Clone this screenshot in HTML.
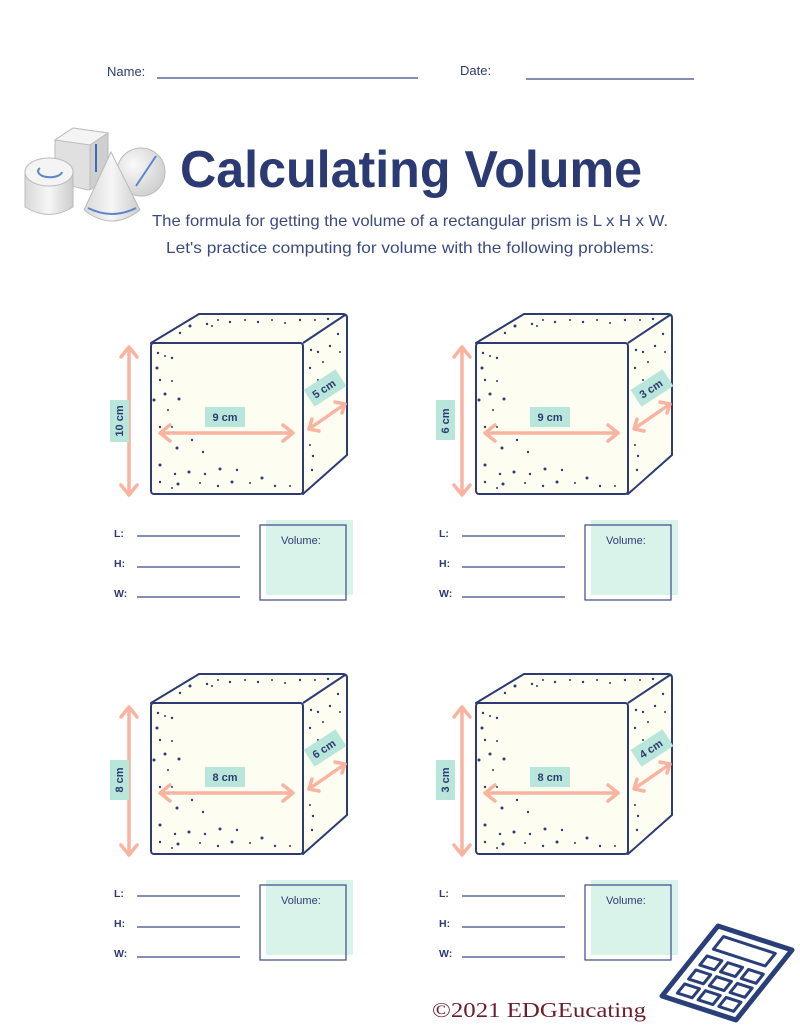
<!DOCTYPE html>
<html><head><meta charset="utf-8"><style>
html,body{margin:0;padding:0;background:#fff;}
svg{display:block;}
text{font-family:"Liberation Sans",sans-serif;}
text.serif{font-family:"Liberation Serif",serif;}
</style></head><body>
<svg width="800" height="1036" viewBox="0 0 800 1036" xmlns="http://www.w3.org/2000/svg">
<defs>
<radialGradient id="gs" cx="0.35" cy="0.35" r="0.7"><stop offset="0" stop-color="#fafafa"/><stop offset="1" stop-color="#cfcfcf"/></radialGradient>
<linearGradient id="gc" x1="0" x2="1"><stop offset="0" stop-color="#d8d8d8"/><stop offset="0.5" stop-color="#f6f6f6"/><stop offset="1" stop-color="#cccccc"/></linearGradient>
<g id="cube">
  <path d="M151,343 L199,314 L343,314 Q347,314 347,318 L347,455 L303,494 Z" fill="#fdfdf1" stroke="#2e3b73" stroke-width="2" stroke-linejoin="round"/>
  <rect x="151" y="343" width="152" height="151" rx="3" fill="#fdfdf1" stroke="#2e3b73" stroke-width="2"/>
  <path d="M303,343 L345,315" stroke="#2e3b73" stroke-width="2"/>
  <g fill="#2e3b73">
    <circle cx="207" cy="324" r="1.2"/><circle cx="218" cy="320" r="1"/><circle cx="230" cy="322" r="1.2"/><circle cx="245" cy="320" r="1"/><circle cx="258" cy="322" r="1.2"/><circle cx="272" cy="320" r="1"/><circle cx="285" cy="323" r="1"/><circle cx="300" cy="320" r="1.2"/><circle cx="315" cy="320" r="1"/><circle cx="328" cy="319" r="1.2"/><circle cx="190" cy="326" r="1.5"/><circle cx="180" cy="333" r="1.2"/><circle cx="212" cy="326" r="1"/>
    <circle cx="158" cy="353" r="1.2"/><circle cx="165" cy="356" r="1"/><circle cx="172" cy="358" r="1.2"/><circle cx="157" cy="368" r="1.5"/><circle cx="160" cy="380" r="1.2"/><circle cx="172" cy="381" r="1"/><circle cx="154" cy="400" r="1.5"/><circle cx="165" cy="394" r="1.5"/><circle cx="179" cy="399" r="1.5"/><circle cx="168" cy="410" r="1"/><circle cx="160" cy="427" r="1.2"/><circle cx="172" cy="427" r="1"/><circle cx="192" cy="440" r="1.2"/><circle cx="177" cy="448" r="1.5"/><circle cx="203" cy="452" r="1.2"/><circle cx="160" cy="465" r="1.5"/><circle cx="175" cy="474" r="1.2"/><circle cx="189" cy="472" r="1.5"/><circle cx="205" cy="474" r="1.2"/><circle cx="220" cy="469" r="1.5"/><circle cx="237" cy="470" r="1.2"/><circle cx="160" cy="482" r="1.2"/><circle cx="178" cy="484" r="1.5"/><circle cx="200" cy="483" r="1"/><circle cx="218" cy="486" r="1.2"/><circle cx="232" cy="482" r="1.5"/><circle cx="250" cy="483" r="1"/><circle cx="262" cy="478" r="1.5"/><circle cx="275" cy="486" r="1.2"/><circle cx="290" cy="486" r="1"/><circle cx="172" cy="488" r="1"/>
    <circle cx="311" cy="350" r="1.2"/><circle cx="318" cy="352" r="1.2"/><circle cx="330" cy="346" r="1.2"/><circle cx="338" cy="334" r="1.2"/><circle cx="310" cy="368" r="1.2"/><circle cx="323" cy="362" r="1"/><circle cx="310" cy="392" r="1.2"/><circle cx="318" cy="380" r="1"/><circle cx="313" cy="456" r="1.2"/><circle cx="312" cy="470" r="1.2"/><circle cx="310" cy="445" r="1"/><circle cx="340" cy="352" r="1"/>
  </g>
  <g stroke="#f8b4a0" stroke-width="3.5" fill="none" stroke-linecap="round" stroke-linejoin="round">
    <path d="M160,433 L293,433 M170,425 L160,433 L170,441 M283,425 L293,433 L283,441"/>
    <path d="M309,429 L345,404 M312,419 L309,429 L319,431 M335,402 L345,404 L342,413"/>
  </g>
  <rect x="205" y="407" width="40" height="20" fill="#b9e6da"/>
  <path d="M137,536 H240 M137,567 H240 M137,597 H240" stroke="#3b4a86" stroke-width="1.2"/>
  <g font-weight="bold" font-size="10.5" fill="#2e3b73"><text x="114" y="537">L:</text><text x="114" y="567">H:</text><text x="114" y="597">W:</text></g>
  <rect x="266" y="520" width="87" height="75" fill="#d9f2ea"/>
  <rect x="260" y="525" width="86" height="75" fill="none" stroke="#3b4a86" stroke-width="1.2"/>
  <text x="281" y="544" font-size="11" fill="#2e3b73">Volume:</text>
</g>
</defs>

<text x="107" y="76" font-size="13" fill="#2e3b73">Name:</text>
<line x1="157" y1="78" x2="418" y2="78" stroke="#3b4a86" stroke-width="1.2"/>
<text x="460" y="75" font-size="13" fill="#2e3b73">Date:</text>
<line x1="526" y1="79" x2="694" y2="79" stroke="#3b4a86" stroke-width="1.2"/>

<!-- shapes icon -->
<g>
  <path d="M55,140 L73,128 L108,133 L108,178 L88,190 L55,182 Z" fill="#e0e0e0" stroke="#bbb"/>
  <path d="M55,140 L73,128 L108,133 L90,145 Z" fill="#f4f4f4" stroke="#bbb"/>
  <path d="M90,145 L108,133 L108,178 L90,190 Z" fill="#cfcfcf" stroke="#bbb"/>
  <path d="M25,172 L25,207 Q49,222 73,207 L73,172" fill="url(#gc)" stroke="#bbb"/>
  <ellipse cx="49" cy="172" rx="24" ry="14" fill="#f4f4f4" stroke="#bbb"/>
  <path d="M40,168 A12,6 0 1,0 62,172" stroke="#5b87c9" stroke-width="2" fill="none"/>
  <circle cx="141" cy="172" r="24" fill="url(#gs)" stroke="#bbb"/>
  <path d="M136,186 L156,156" stroke="#5b87c9" stroke-width="2"/>
  <path d="M111,152 L84,210 Q112,232 140,210 Z" fill="url(#gc)" stroke="#bbb"/>
  <path d="M88,208 Q112,220 136,208" stroke="#5b87c9" stroke-width="2" fill="none"/>
  <path d="M96,144 L96,172" stroke="#3e6cb2" stroke-width="2"/>
</g>

<text x="180" y="187" font-size="52" font-weight="bold" fill="#2b3a72" textLength="462" lengthAdjust="spacingAndGlyphs">Calculating Volume</text>
<text x="410" y="226" font-size="16" fill="#3b4a80" text-anchor="middle" textLength="516" lengthAdjust="spacingAndGlyphs">The formula for getting the volume of a rectangular prism is L x H x W.</text>
<text x="410" y="253" font-size="16" fill="#3b4a80" text-anchor="middle" textLength="488" lengthAdjust="spacingAndGlyphs">Let's practice computing for volume with the following problems:</text>

<use href="#cube"/>
<use href="#cube" transform="translate(325,0)"/>
<use href="#cube" transform="translate(0,360)"/>
<use href="#cube" transform="translate(325,360)"/>

<g stroke="#f8b4a0" stroke-width="3.5" fill="none" stroke-linecap="round" stroke-linejoin="round">
  <path d="M129,347 L129,495 M121,357 L129,347 L137,357 M121,485 L129,495 L137,485"/>
  <path d="M462,347 L462,495 M454,357 L462,347 L470,357 M454,485 L462,495 L470,485"/>
  <path d="M129,707 L129,855 M121,717 L129,707 L137,717 M121,845 L129,855 L137,845"/>
  <path d="M462,707 L462,855 M454,717 L462,707 L470,717 M454,845 L462,855 L470,845"/>
</g>
<g fill="#b9e6da">
  <rect x="110" y="400" width="19" height="42"/><rect x="436" y="400" width="19" height="40"/>
  <rect x="110" y="760" width="19" height="40"/><rect x="436" y="760" width="19" height="40"/>
  <rect x="-19" y="-10" width="38" height="20" transform="translate(325,388) rotate(-33)"/>
  <rect x="-19" y="-10" width="38" height="20" transform="translate(652,388) rotate(-33)"/>
  <rect x="-19" y="-10" width="38" height="20" transform="translate(325,748) rotate(-33)"/>
  <rect x="-19" y="-10" width="38" height="20" transform="translate(652,748) rotate(-33)"/>
</g>
<g font-weight="bold" font-size="11" fill="#2e3b73" text-anchor="middle">
  <text x="225" y="421">9 cm</text><text x="550" y="421">9 cm</text>
  <text x="225" y="781">8 cm</text><text x="550" y="781">8 cm</text>
  <text transform="translate(123,421) rotate(-90)">10 cm</text>
  <text transform="translate(449,421) rotate(-90)">6 cm</text>
  <text transform="translate(123,780) rotate(-90)">8 cm</text>
  <text transform="translate(449,780) rotate(-90)">3 cm</text>
  <text transform="translate(326,392) rotate(-33)">5 cm</text>
  <text transform="translate(653,392) rotate(-33)">3 cm</text>
  <text transform="translate(326,752) rotate(-33)">6 cm</text>
  <text transform="translate(653,752) rotate(-33)">4 cm</text>
</g>

<!-- calculator: affine mapping of unit square -->
<g transform="matrix(74,24,-56,70,718,926)" stroke="#2a3f7a" fill="#fff" stroke-linejoin="round">
  <rect x="0" y="0" width="1" height="1" stroke-width="5" vector-effect="non-scaling-stroke"/>
  <rect x="0.15" y="0.1" width="0.7" height="0.18" stroke-width="3" vector-effect="non-scaling-stroke"/>
  <g stroke-width="3">
    <rect x="0.14" y="0.38" width="0.2" height="0.13" vector-effect="non-scaling-stroke"/><rect x="0.42" y="0.38" width="0.2" height="0.13" vector-effect="non-scaling-stroke"/><rect x="0.70" y="0.38" width="0.2" height="0.13" vector-effect="non-scaling-stroke"/>
    <rect x="0.14" y="0.58" width="0.2" height="0.13" vector-effect="non-scaling-stroke"/><rect x="0.42" y="0.58" width="0.2" height="0.13" vector-effect="non-scaling-stroke"/><rect x="0.70" y="0.58" width="0.2" height="0.13" vector-effect="non-scaling-stroke"/>
    <rect x="0.14" y="0.78" width="0.2" height="0.13" vector-effect="non-scaling-stroke"/><rect x="0.42" y="0.78" width="0.2" height="0.13" vector-effect="non-scaling-stroke"/><rect x="0.70" y="0.78" width="0.2" height="0.13" vector-effect="non-scaling-stroke"/>
  </g>
</g>

<text class="serif" x="432" y="1017" font-size="21" fill="#6b1d2a" textLength="214" lengthAdjust="spacingAndGlyphs">©2021 EDGEucating</text>
</svg>
</body></html>
